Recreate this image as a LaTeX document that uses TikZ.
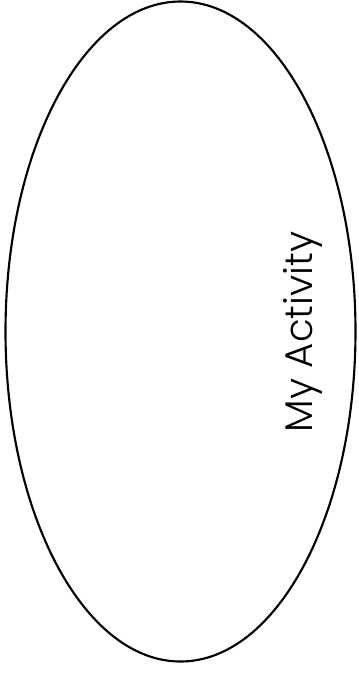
\documentclass[tikz,border=0pt]{standalone}
\usepackage{fontspec}
\usepackage{tikz}
\usetikzlibrary{shapes.geometric}
\newfontfamily\actfont{Poppins Light}

\begin{document}
\begin{tikzpicture}[x=0.75pt,y=-0.75pt]
  \useasboundingbox (0,0) rectangle (358,676);
  \node[draw=black,line width=1.6pt,ellipse,minimum width=350*0.75pt,minimum height=660*0.75pt,inner sep=0pt] (act) at (180.5,331.5) {};
  \node[rotate=90,anchor=base,inner sep=0pt,font=\actfont\fontsize{29pt}{34pt}\selectfont] (lbl) at (312,332) {My Activity};
\end{tikzpicture}
\end{document}
